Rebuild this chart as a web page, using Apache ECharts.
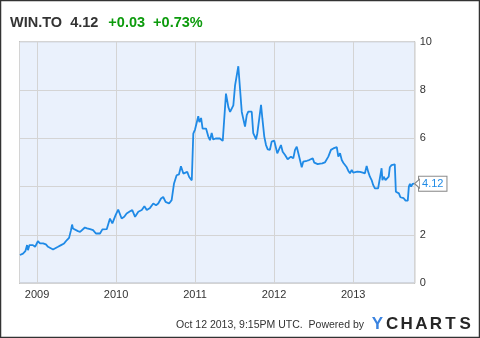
<!DOCTYPE html>
<html>
<head>
<meta charset="utf-8">
<script src="https://cdn.jsdelivr.net/npm/echarts@6/dist/echarts.min.js"></script>
<style>
html,body{margin:0;padding:0;background:#fff;}
#c{width:480px;height:338px;}
</style>
</head>
<body>
<div id="c"></div>
<script>
var dates = [
'2008-10-14','2008-10-28','2008-11-08','2008-11-16','2008-11-20','2008-11-27','2008-12-04','2008-12-13','2008-12-23',
'2009-01-05','2009-01-15','2009-01-29','2009-02-11','2009-02-21','2009-03-02','2009-03-16','2009-03-25','2009-04-08','2009-04-22',
'2009-05-06','2009-05-19','2009-05-29','2009-06-07','2009-06-12','2009-06-16','2009-06-25','2009-07-09','2009-07-19','2009-07-28',
'2009-08-10','2009-08-20','2009-09-03','2009-09-17','2009-09-30','2009-10-19','2009-10-30','2009-11-19','2009-12-04','2009-12-15','2009-12-30',
'2010-01-11','2010-01-27','2010-02-08','2010-02-19','2010-03-07','2010-03-17','2010-03-30','2010-04-14','2010-04-30','2010-05-12','2010-05-23',
'2010-06-07','2010-06-22','2010-07-05','2010-07-15','2010-07-28','2010-08-07','2010-08-18','2010-09-03','2010-09-15','2010-09-26',
'2010-10-08','2010-10-19','2010-10-28','2010-11-08','2010-11-16','2010-11-26','2010-12-05','2010-12-17','2010-12-24',
'2011-01-01','2011-01-09','2011-01-16','2011-01-21','2011-01-29','2011-02-05','2011-02-13','2011-02-21','2011-03-03','2011-03-11','2011-03-19','2011-03-26',
'2011-04-06','2011-04-14','2011-04-26','2011-05-09','2011-05-15','2011-05-24','2011-06-04','2011-06-12','2011-06-19','2011-06-27',
'2011-07-05','2011-07-12','2011-07-20','2011-07-28','2011-08-05','2011-08-12','2011-08-20','2011-08-28','2011-09-04','2011-09-12','2011-09-20','2011-09-27',
'2011-10-05','2011-10-10','2011-10-16','2011-10-23','2011-11-02','2011-11-08','2011-11-17','2011-11-25','2011-12-03','2011-12-13','2011-12-21',
'2012-01-02','2012-01-09','2012-01-16','2012-01-25','2012-02-02','2012-02-10','2012-02-21','2012-03-04','2012-03-11','2012-03-19','2012-03-30',
'2012-04-07','2012-04-15','2012-04-22','2012-04-30','2012-05-08','2012-05-15','2012-05-23','2012-06-01','2012-06-11','2012-06-18','2012-06-28',
'2012-07-05','2012-07-13','2012-07-21','2012-08-01','2012-08-11','2012-08-23','2012-08-31','2012-09-08','2012-09-20','2012-10-01','2012-10-09','2012-10-17','2012-10-24',
'2012-11-01','2012-11-09','2012-11-16','2012-11-24','2012-12-02','2012-12-09','2012-12-17','2012-12-25',
'2013-01-01','2013-01-09','2013-01-20','2013-02-01','2013-02-14','2013-02-24','2013-03-04','2013-03-11','2013-03-19','2013-03-27',
'2013-04-03','2013-04-11','2013-04-19','2013-04-26','2013-05-04','2013-05-12','2013-05-16','2013-05-22','2013-05-30','2013-06-07','2013-06-14','2013-06-19','2013-06-27',
'2013-07-05','2013-07-12','2013-07-17','2013-07-23','2013-07-31','2013-08-07','2013-08-16','2013-08-22','2013-08-31','2013-09-10','2013-09-15','2013-09-20','2013-09-25','2013-10-02','2013-10-09'
];
var prices = [
1.17,1.23,1.33,1.58,1.37,1.58,1.51,1.58,1.51,
1.74,1.65,1.65,1.61,1.51,1.44,1.40,1.44,1.51,1.58,
1.65,1.79,1.88,2.20,2.43,2.27,2.20,2.16,2.13,2.20,
2.31,2.27,2.24,2.20,2.06,2.06,2.23,2.24,2.68,2.48,2.82,
3.05,2.68,2.75,2.89,2.98,3.03,2.75,2.96,3.03,3.19,3.03,
3.12,3.30,3.23,3.30,3.51,3.57,3.37,3.30,3.44,4.13,
4.47,4.51,4.84,4.54,4.52,4.61,4.40,4.26,6.19,
6.36,6.33,6.91,6.67,6.84,6.40,6.33,6.40,6.08,5.92,6.22,5.95,
5.99,6.05,5.99,5.89,5.92,7.85,7.29,7.09,7.02,7.36,
8.19,8.22,8.98,9.02,7.09,7.02,6.48,6.96,7.10,7.03,7.10,6.21,
6.14,5.96,6.21,6.18,7.38,6.83,6.07,5.72,5.54,5.52,5.86,
5.90,5.93,5.38,5.40,5.72,5.44,5.31,5.13,5.07,5.24,5.17,
5.52,5.65,5.59,5.10,4.80,5.03,5.10,5.07,5.10,5.03,5.17,
4.99,5.03,4.93,4.95,4.96,5.00,5.03,5.24,5.52,5.58,5.54,5.63,5.24,
5.38,5.10,4.99,5.03,4.80,4.66,4.55,4.69,
4.58,4.62,4.62,4.61,4.58,4.55,4.85,4.62,4.41,4.27,
4.07,3.93,3.86,3.93,3.86,4.76,4.27,4.41,4.27,4.24,4.41,4.80,4.89,
4.93,4.92,3.79,3.75,3.72,3.56,3.56,3.52,3.42,3.42,4.00,4.11,4.00,4.11,4.12
];
var yTicks = [0, 2, 4, 6, 8, 10];
var titleName = 'WIN.TO';
var lastPrice = '4.12';
var change = '+0.03';
var changePct = '+0.73%';
var footerText = 'Oct 12 2013, 9:15PM UTC.  Powered by';
var logoLetters = ['Y','C','H','A','R','T','S'];

var seriesData = dates.map(function (d, i) { return [d, prices[i]]; });

var chart = echarts.init(document.getElementById('c'), null, {renderer: 'canvas'});
var FONT = '"Liberation Sans", Arial, sans-serif';

var logo = logoLetters.map(function (ch, i) {
  return {
    type: 'text',
    x: 377.5 + i * 14.6, y: 324,
    style: {
      text: ch, fill: i === 0 ? '#3a83e0' : '#262626',
      font: 'bold 17px ' + FONT, align: 'center', verticalAlign: 'middle'
    }
  };
});

chart.setOption({
  animation: false,
  title: {
    left: 5, top: 9,
    text: '{a|' + titleName + '  ' + lastPrice + '}  {g|' + change + '  ' + changePct + '}',
    textStyle: {
      rich: {
        a: {fontFamily: FONT, fontWeight: 'bold', fontSize: 14.5, color: '#333'},
        g: {fontFamily: FONT, fontWeight: 'bold', fontSize: 14.5, color: '#0d9b0d'}
      }
    }
  },
  grid: {
    left: 19.5, right: 65.3, top: 41.6, bottom: 54.7,
    containLabel: false,
    show: true, backgroundColor: '#eaf1fc', borderColor: '#6e6e6e', borderWidth: 1
  },
  xAxis: {
    type: 'time',
    min: '2008-10-12', max: '2013-10-12',
    minInterval: 365 * 86400000, maxInterval: 366 * 86400000,
    axisLine: {show: false},
    axisTick: {show: false},
    splitLine: {show: true, lineStyle: {color: '#d4d4d4', width: 1}},
    axisLabel: {
      formatter: '{yyyy}', showMinLabel: false, showMaxLabel: false,
      color: '#333', fontFamily: FONT, fontSize: 11, margin: 6
    }
  },
  yAxis: {
    type: 'value', position: 'right',
    min: yTicks[0], max: yTicks[yTicks.length - 1], interval: yTicks[1] - yTicks[0],
    axisLine: {show: false}, axisTick: {show: false},
    splitLine: {show: true, lineStyle: {color: '#d4d4d4', width: 1}},
    axisLabel: {color: '#333', fontFamily: FONT, fontSize: 11, margin: 5}
  },
  series: [{
    type: 'line',
    data: seriesData,
    showSymbol: false,
    lineStyle: {color: '#1f8ae6', width: 1.8},
    itemStyle: {color: '#1f8ae6'},
    endLabel: {
      show: true, formatter: lastPrice, distance: 5,
      color: '#1f8ae6', fontFamily: FONT, fontSize: 11,
      backgroundColor: '#fff', borderColor: '#888', borderWidth: 1,
      padding: [2, 3, 1, 3]
    },
    markPoint: {
      silent: true,
      symbol: 'path://M0,5 L6,0 L6,10 Z',
      symbolSize: [5, 9],
      symbolOffset: [3, 0],
      itemStyle: {color: '#fff', borderColor: '#888', borderWidth: 1},
      label: {show: false},
      data: [{coord: [dates[dates.length - 1], prices[prices.length - 1]]}]
    }
  }],
  graphic: [
    {type: 'rect', shape: {x: 0.5, y: 0.5, width: 479, height: 337},
     style: {fill: 'none', stroke: '#333', lineWidth: 1.5}},
    {type: 'text', x: 364, y: 325,
     style: {text: footerText, fill: '#333', font: '10.5px ' + FONT, align: 'right', verticalAlign: 'middle'}}
  ].concat(logo)
});
</script>
</body>
</html>
